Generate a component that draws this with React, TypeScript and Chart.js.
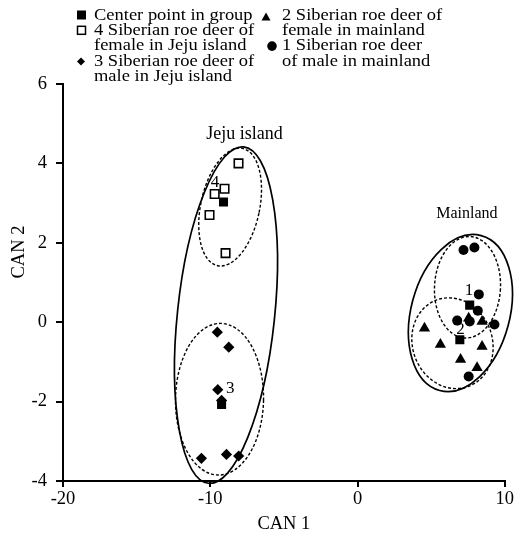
import React, { useEffect, useRef } from "react";
import { Chart, registerables } from "chart.js";
Chart.register(...registerables);

const FONT = '"Liberation Serif", "Times New Roman", serif';

// Group 1: Siberian roe deer of male in mainland (circles)
const maleMainlandX = [7.2, 7.94, 8.24, 8.17, 6.77, 7.62, 9.3, 7.55];
const maleMainlandY = [1.82, 1.88, 0.7, 0.29, 0.04, 0.02, -0.06, -1.37];
// Group 2: female in mainland (triangles)
const femaleMainlandX = [4.55, 5.63, 7.55, 8.46, 7.0, 8.46, 8.12];
const femaleMainlandY = [-0.15, -0.56, 0.1, 0.02, -0.94, -0.61, -1.15];
// Group 3: male in Jeju island (diamonds)
const maleJejuX = [-9.52, -8.74, -9.49, -9.23, -10.6, -8.9, -8.07];
const maleJejuY = [-0.25, -0.63, -1.7, -1.97, -3.43, -3.33, -3.37];
// Group 4: female in Jeju island (open squares)
const femaleJejuX = [-8.08, -9.03, -9.7, -10.05, -8.96];
const femaleJejuY = [4.0, 3.36, 3.23, 2.7, 1.74];
// Group centers (filled squares), groups 1..4
const centerX = [7.62, 6.95, -9.23, -9.1];
const centerY = [0.43, -0.44, -2.07, 3.03];
const centerLabels = ["1", "2", "3", "4"];
const centerLabelX = [7.57, 6.99, -8.65, -9.67];
const centerLabelY = [0.81, -0.18, -1.66, 3.53];

// Confidence ellipses (data units)
const ellipseCX = [-8.93, -8.65, -9.37, 6.99, 7.47, 6.45];
const ellipseCY = [0.18, 2.9, -1.94, 0.23, 0.88, -0.53];
const ellipseRX = [3.3, 2.0, 2.99, 3.35, 2.24, 2.71];
const ellipseRY = [4.26, 1.51, 1.91, 2.02, 1.28, 1.16];
const ellipseAngle = [6, 12, 1, 15, 3, -20];
const ellipseDashed = [false, true, true, false, true, true];

const regionLabels = ["Jeju island", "Mainland"];
const regionLabelX = [-7.67, 7.43];
const regionLabelY = [4.74, 2.72];
const regionLabelSize = [18, 16];

const xTicks = [-20, -10, 0, 10];
const yTicks = [-4, -2, 0, 2, 4, 6];
const xTitle = "CAN 1";
const yTitle = "CAN 2";

const legendCol1 = [
  "Center point in group",
  "4 Siberian roe deer of",
  "female in Jeju island",
  "3 Siberian roe deer of",
  "male in Jeju island",
];
const legendCol2 = [
  "2 Siberian roe deer of",
  "female in mainland",
  "1 Siberian roe deer",
  "of male in mainland",
];

const toPts = (xs: number[], ys: number[]) => xs.map((x, i) => ({ x, y: ys[i] }));

const overlay = {
  id: "overlay",
  beforeDatasetsDraw(chart: any) {
    const { ctx, scales } = chart;
    const xs = scales.x;
    const ys = scales.y;
    const pxX = Math.abs(xs.getPixelForValue(1) - xs.getPixelForValue(0));
    const pxY = Math.abs(ys.getPixelForValue(0) - ys.getPixelForValue(1));
    for (let i = 0; i < ellipseCX.length; i++) {
      ctx.save();
      ctx.beginPath();
      ctx.ellipse(
        xs.getPixelForValue(ellipseCX[i]),
        ys.getPixelForValue(ellipseCY[i]),
        ellipseRX[i] * pxX,
        ellipseRY[i] * pxY,
        (ellipseAngle[i] * Math.PI) / 180,
        0,
        Math.PI * 2
      );
      ctx.strokeStyle = "#000";
      if (ellipseDashed[i]) {
        ctx.setLineDash([3, 2]);
        ctx.lineWidth = 1.4;
      } else {
        ctx.lineWidth = 1.7;
      }
      ctx.stroke();
      ctx.restore();
    }
  },
  afterDraw(chart: any) {
    const { ctx, scales } = chart;
    const xs = scales.x;
    const ys = scales.y;
    ctx.save();
    ctx.fillStyle = "#000";
    ctx.strokeStyle = "#000";
    // group numbers
    ctx.font = `17px ${FONT}`;
    ctx.textAlign = "center";
    ctx.textBaseline = "middle";
    centerLabels.forEach((t, i) => {
      ctx.fillText(t, xs.getPixelForValue(centerLabelX[i]), ys.getPixelForValue(centerLabelY[i]));
    });
    // region labels
    regionLabels.forEach((t, i) => {
      ctx.font = `${regionLabelSize[i]}px ${FONT}`;
      ctx.fillText(t, xs.getPixelForValue(regionLabelX[i]), ys.getPixelForValue(regionLabelY[i]));
    });
    // axis titles
    ctx.font = `18.5px ${FONT}`;
    ctx.fillText(xTitle, (chart.chartArea.left + chart.chartArea.right) / 2, 524);
    ctx.save();
    ctx.translate(19, 252);
    ctx.rotate(-Math.PI / 2);
    ctx.fillText(yTitle, 0, 0);
    ctx.restore();

    // legend
    const lh = 15.3;
    const y0 = 15.5;
    ctx.font = `16.5px ${FONT}`;
    ctx.textAlign = "left";
    const put = (t: string, x: number, y: number) => {
      ctx.save();
      ctx.translate(x, y);
      ctx.scale(1.12, 1);
      ctx.fillText(t, 0, 0);
      ctx.restore();
    };
    legendCol1.forEach((t, i) => put(t, 94, y0 + i * lh));
    legendCol2.forEach((t, i) => put(t, 282, y0 + i * lh));
    // markers
    ctx.fillRect(77, y0 - 5, 9, 9);
    ctx.lineWidth = 1.5;
    ctx.strokeRect(77.5, y0 + lh - 4.5, 8, 8);
    const dy = y0 + 3 * lh;
    ctx.beginPath();
    ctx.moveTo(81, dy - 4);
    ctx.lineTo(85, dy);
    ctx.lineTo(81, dy + 4);
    ctx.lineTo(77, dy);
    ctx.closePath();
    ctx.fill();
    ctx.beginPath();
    ctx.moveTo(266, y0 - 3);
    ctx.lineTo(270.5, y0 + 5);
    ctx.lineTo(261.5, y0 + 5);
    ctx.closePath();
    ctx.fill();
    ctx.beginPath();
    ctx.arc(272, y0 + 2 * lh, 4.8, 0, Math.PI * 2);
    ctx.fill();
    ctx.restore();
  },
};

export default function App() {
  const ref = useRef<HTMLCanvasElement | null>(null);
  useEffect(() => {
    if (!ref.current) return;
    const chart = new Chart(ref.current, {
      type: "scatter",
      data: {
        datasets: [
          {
            label: "Center point in group",
            data: toPts(centerX, centerY),
            pointStyle: "rect",
            pointRadius: 6.4,
            backgroundColor: "#000",
            borderColor: "#000",
            borderWidth: 0,
          },
          {
            label: "4 Siberian roe deer of female in Jeju island",
            data: toPts(femaleJejuX, femaleJejuY),
            pointStyle: "rect",
            pointRadius: 6,
            backgroundColor: "#fff",
            borderColor: "#000",
            borderWidth: 1.6,
          },
          {
            label: "3 Siberian roe deer of male in Jeju island",
            data: toPts(maleJejuX, maleJejuY),
            pointStyle: "rectRot",
            pointRadius: 5.6,
            backgroundColor: "#000",
            borderColor: "#000",
            borderWidth: 0,
          },
          {
            label: "2 Siberian roe deer of female in mainland",
            data: toPts(femaleMainlandX, femaleMainlandY),
            pointStyle: "triangle",
            pointRadius: 6.5,
            backgroundColor: "#000",
            borderColor: "#000",
            borderWidth: 0,
          },
          {
            label: "1 Siberian roe deer of male in mainland",
            data: toPts(maleMainlandX, maleMainlandY),
            pointStyle: "circle",
            pointRadius: 5,
            backgroundColor: "#000",
            borderColor: "#000",
            borderWidth: 0,
          },
        ],
      },
      options: {
        responsive: false,
        animation: false,
        layout: { padding: { top: 84, right: 10, left: 0, bottom: 0 } },
        plugins: { legend: { display: false }, tooltip: { enabled: false } },
        scales: {
          x: {
            type: "linear",
            min: -20,
            max: 10,
            afterBuildTicks: (s: any) => {
              s.ticks = xTicks.map((v) => ({ value: v }));
            },
            afterFit: (s: any) => {
              s.height = 54;
            },
            ticks: { color: "#000", font: { family: FONT, size: 18.5 }, padding: 1, maxRotation: 0 },
            grid: { display: true, drawOnChartArea: false, drawTicks: true, tickLength: 6, color: "#000", lineWidth: 2 },
            border: { display: true, color: "#000", width: 2 },
          },
          y: {
            type: "linear",
            min: -4,
            max: 6,
            afterBuildTicks: (s: any) => {
              s.ticks = yTicks.map((v) => ({ value: v }));
            },
            afterFit: (s: any) => {
              s.width = 63;
            },
            ticks: { color: "#000", font: { family: FONT, size: 18.5 }, padding: 9 },
            grid: { display: true, drawOnChartArea: false, drawTicks: true, tickLength: 7, color: "#000", lineWidth: 2 },
            border: { display: true, color: "#000", width: 2 },
          },
        },
      },
      plugins: [overlay],
    });
    return () => chart.destroy();
  }, []);
  return (
    <div style={{ position: "absolute", left: 0, top: 0, width: 515, height: 535 }}>
      <canvas ref={ref} width={515} height={535} style={{ width: 515, height: 535, display: "block" }} />
    </div>
  );
}
